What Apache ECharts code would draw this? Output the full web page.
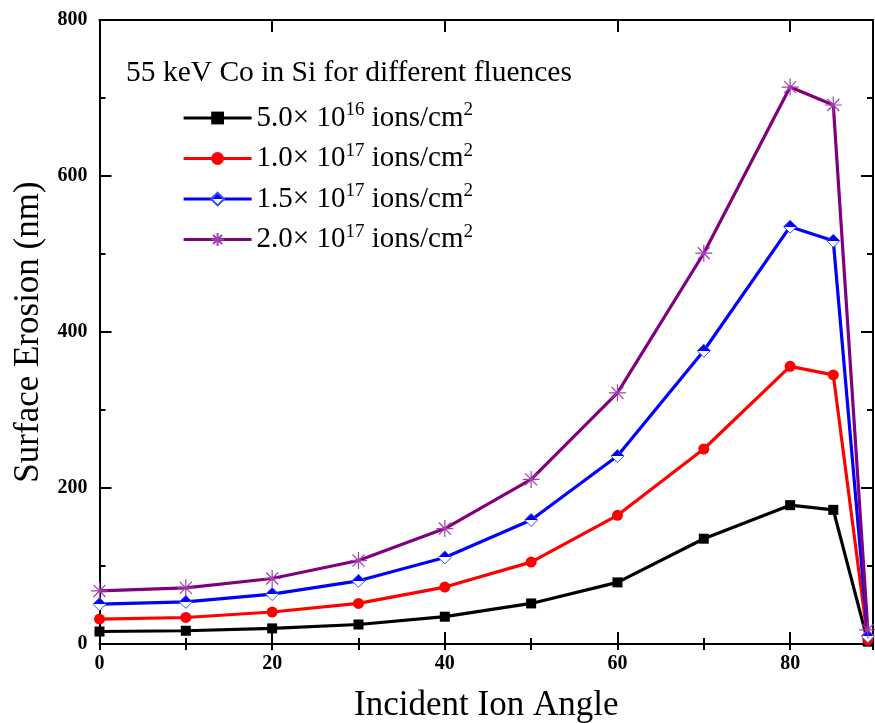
<!DOCTYPE html>
<html>
<head>
<meta charset="utf-8">
<script src="https://cdn.jsdelivr.net/npm/echarts@6/dist/echarts.min.js"></script>
<style>
html,body{margin:0;padding:0;background:#fff;}
#c{width:875px;height:723px;}
</style>
</head>
<body>
<div id="c"></div>
<script>
var angles = [0, 10, 20, 30, 40, 50, 60, 70, 80, 85, 89];
var fluence50e16 = [16, 17, 20, 25, 35, 52, 79, 135, 178, 172, 3];
var fluence10e17 = [32, 34, 41, 52, 73, 105, 165, 250, 356, 345, 5];
var fluence15e17 = [51, 54, 64, 81, 111, 159, 241, 376, 535, 517, 10];
var fluence20e17 = [68, 72, 84, 107, 148, 211, 322, 501, 714, 691, 18];
var seriesNames = ['5.0× 10|16', '1.0× 10|17', '1.5× 10|17', '2.0× 10|17'];
var legendTitle = '55 keV Co in Si for different fluences';
var xTitle = 'Incident Ion Angle';
var yTitle = 'Surface Erosion (nm)';

function pairs(ys) { return angles.map(function (a, i) { return [a, ys[i]]; }); }

var serif = '"Liberation Serif", "DejaVu Serif", serif';
var chart = echarts.init(document.getElementById('c'), null, {renderer: 'canvas'});

var halfDiamond = new echarts.graphic.LinearGradient(0, 0, 0, 1, [
  {offset: 0, color: '#0000ff'}, {offset: 0.5, color: '#0000ff'},
  {offset: 0.5, color: '#ffffff'}, {offset: 1, color: '#ffffff'}
]);

var starPath = 'path://M50,0 L50,100 M0,50 L100,50 M14.6,14.6 L85.4,85.4 M14.6,85.4 L85.4,14.6';

function mkSeries(name, data, color, symbol, size, itemStyle) {
  return {
    name: name, type: 'line', data: pairs(data),
    symbol: symbol, symbolSize: size,
    lineStyle: {color: color, width: 3.2},
    itemStyle: itemStyle,
    color: color,
    z: 3
  };
}

var axisBase = {
  axisLine: {show: true, onZero: false, lineStyle: {color: '#000', width: 2}},
  splitLine: {show: false}
};

var option = {
  animation: false,
  backgroundColor: '#fff',
  title: {
    text: legendTitle, left: 126, top: 58, padding: 0,
    textStyle: {fontFamily: serif, fontSize: 29.5, fontWeight: 'normal', color: '#000'}
  },
  grid: {left: 99.5, right: 2, top: 20, bottom: 79, containLabel: false, outerBoundsMode: 'none'},
  legend: {
    orient: 'vertical', left: 182, top: 101, padding: 0,
    itemWidth: 68, itemHeight: 16, itemGap: 9,
    data: seriesNames,
    lineStyle: {width: 3.2},
    formatter: function (n) { var p = n.split('|'); return '{a|' + p[0] + '}{s|' + p[1] + '}{a| ions/cm}{s|2}'; },
    textStyle: {
      fontFamily: serif, fontSize: 29, color: '#000',
      rich: {
        a: {fontFamily: serif, fontSize: 29, color: '#000'},
        s: {fontFamily: serif, fontSize: 19, color: '#000', padding: [0, 0, 15, 0]}
      }
    }
  },
  xAxis: [
    Object.assign({}, axisBase, {
      type: 'value', min: 0, max: 89.6, interval: 20, position: 'bottom',
      name: xTitle, nameLocation: 'middle', nameGap: 44,
      nameTextStyle: {fontFamily: serif, fontSize: 35, color: '#000'},
      axisTick: {show: true, inside: true, length: 12, lineStyle: {color: '#000', width: 2}},
      axisLabel: {fontFamily: serif, fontSize: 20, fontWeight: 'bold', color: '#000', margin: 10, showMaxLabel: false}
    }),
    Object.assign({}, axisBase, {
      type: 'value', min: 0, max: 89.6, interval: 10, position: 'bottom',
      axisLine: {show: false},
      axisTick: {show: true, inside: true, length: 6, lineStyle: {color: '#000', width: 2}},
      axisLabel: {show: false}
    }),
    Object.assign({}, axisBase, {
      type: 'value', min: 0, max: 89.6, interval: 20, position: 'top',
      axisTick: {show: true, inside: true, length: 12, lineStyle: {color: '#000', width: 2}},
      axisLabel: {show: false}
    }),
    Object.assign({}, axisBase, {
      type: 'value', min: 0, max: 89.6, interval: 10, position: 'top',
      axisLine: {show: false},
      axisTick: {show: true, inside: true, length: 6, lineStyle: {color: '#000', width: 2}},
      axisLabel: {show: false}
    })
  ],
  yAxis: [
    Object.assign({}, axisBase, {
      type: 'value', min: 0, max: 800, interval: 200, position: 'left',
      name: yTitle, nameLocation: 'middle', nameGap: 38,
      nameTextStyle: {fontFamily: serif, fontSize: 35, color: '#000'},
      axisTick: {show: true, inside: true, length: 12, lineStyle: {color: '#000', width: 2}},
      minorTick: {show: true, splitNumber: 2, length: 6, lineStyle: {color: '#000', width: 2}},
      axisLabel: {fontFamily: serif, fontSize: 20, fontWeight: 'bold', color: '#000', margin: 12}
    }),
    Object.assign({}, axisBase, {
      type: 'value', min: 0, max: 800, interval: 200, position: 'right',
      axisTick: {show: true, inside: true, length: 12, lineStyle: {color: '#000', width: 2}},
      minorTick: {show: true, splitNumber: 2, length: 6, lineStyle: {color: '#000', width: 2}},
      axisLabel: {show: false}
    })
  ],
  series: [
    mkSeries(seriesNames[0], fluence50e16, '#000000', 'rect', 10, {color: '#000000'}),
    mkSeries(seriesNames[1], fluence10e17, '#ff0000', 'circle', 11, {color: '#ff0000'}),
    mkSeries(seriesNames[2], fluence15e17, '#0000ff', 'diamond', 13, {color: halfDiamond, borderColor: '#3050ff', borderWidth: 1}),
    mkSeries(seriesNames[3], fluence20e17, '#800080', starPath, 17, {color: 'rgba(0,0,0,0)', borderColor: '#a040b0', borderWidth: 1.2})
  ]
};
chart.setOption(option);
</script>
</body>
</html>
